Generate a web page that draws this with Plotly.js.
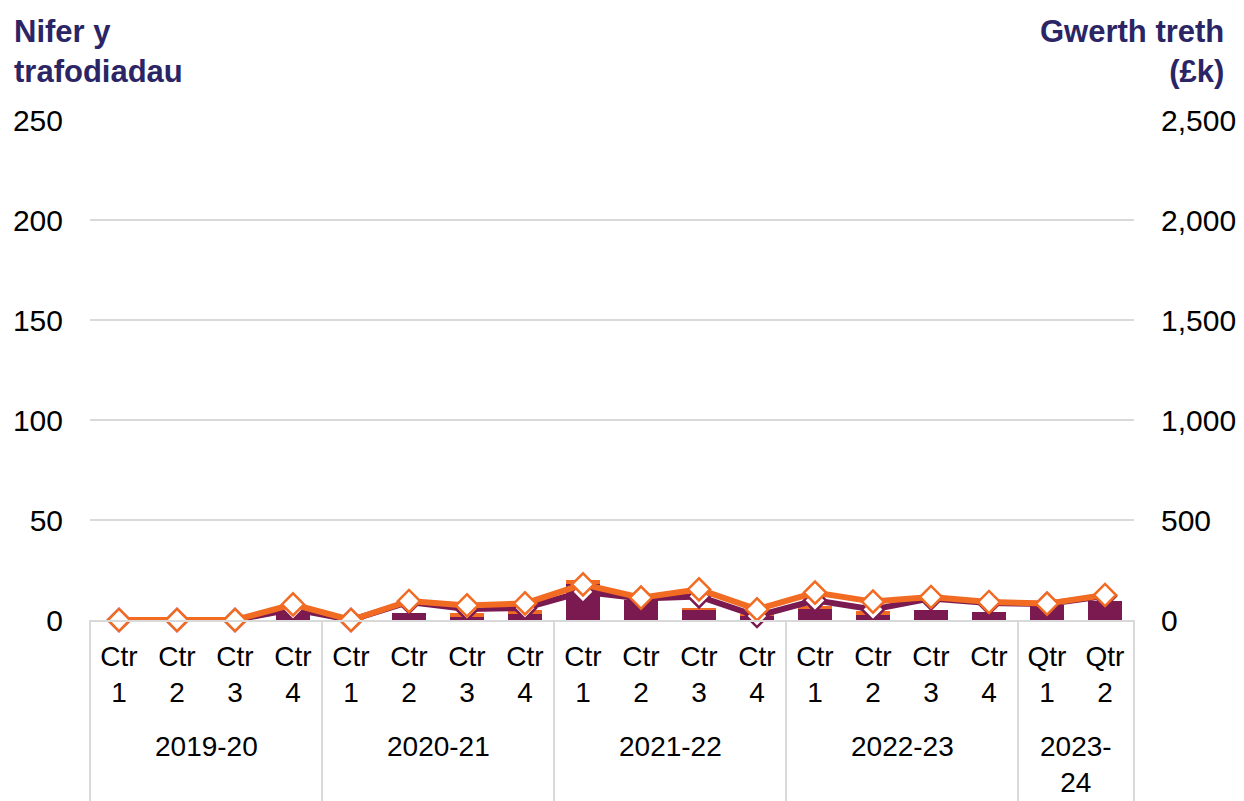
<!DOCTYPE html>
<html>
<head>
<meta charset="utf-8">
<script src="https://cdn.plot.ly/plotly-3.0.1.min.js"></script>
<style>html,body{margin:0;padding:0;background:#fff;}#chart{width:1244px;height:801px;}</style>
</head>
<body>
<div id="chart"></div>
<script>
// Data
const years = ["2019-20","2019-20","2019-20","2019-20",
               "2020-21","2020-21","2020-21","2020-21",
               "2021-22","2021-22","2021-22","2021-22",
               "2022-23","2022-23","2022-23","2022-23",
               "2023-<br>24","2023-<br>24"];
const quarters = ["Ctr<br>1","Ctr<br>2","Ctr<br>3","Ctr<br>4",
                  "Ctr<br>1","Ctr<br>2","Ctr<br>3","Ctr<br>4",
                  "Ctr<br>1","Ctr<br>2","Ctr<br>3","Ctr<br>4",
                  "Ctr<br>1","Ctr<br>2","Ctr<br>3","Ctr<br>4",
                  "Qtr<br>1","Qtr<br>2"];
// Number of transactions (left axis), stacked bars
const barsPurple = [0,0,0,3, 0,3.7,1.6,2.8, 17.8,9.8,5,2, 5.7,2.3,4.8,4, 7.3,9.5];
const barsOrange = [0,0,0,0.7, 0,0,2,2, 2,0,1.2,1.2, 1.3,2.2,0,0, 0,0];
// Tax value £k (right axis)
const linePurple = [0,0,0,55, 0,90,55,60, 141,108,118,20, 98,53,108,85, 80,120];
const lineOrange = [0,0,0,78, 0,95,73,83, 178,112,153,53, 137,92,115,90, 82,125];

const PURPLE = "#7b1a50";
const ORANGE = "#f26b23";
const NAVY = "#2b2565";
const GRID = "#d9d9d9";
const FONT = "Liberation Sans, Arial, sans-serif";
const n = quarters.length;
const idx = quarters.map((_, i) => i);
const xr = [-0.5, n - 0.5];
const toPaper = v => (v - xr[0]) / (xr[1] - xr[0]);

const traces = [
  {type:"bar", x:idx, y:barsPurple, marker:{color:PURPLE}, yaxis:"y", hoverinfo:"skip"},
  {type:"bar", x:idx, y:barsOrange, marker:{color:ORANGE}, yaxis:"y", hoverinfo:"skip"},
  {type:"scatter", mode:"lines+markers", x:idx, y:linePurple, yaxis:"y2", cliponaxis:false,
   line:{color:PURPLE, width:6},
   marker:{symbol:"diamond", size:17, color:"#ffffff", line:{color:PURPLE, width:2.5}}},
  {type:"scatter", mode:"lines+markers", x:idx, y:lineOrange, yaxis:"y2", cliponaxis:false,
   line:{color:ORANGE, width:6},
   marker:{symbol:"diamond", size:17, color:"#ffffff", line:{color:ORANGE, width:2.5}}}
];

// group boundaries and label positions from the years array
const shapes = [];
const annotations = [];
let start = 0;
for (let i = 1; i <= n; i++) {
  if (i === n || years[i] !== years[start]) {
    const mid = (start + i - 1) / 2;
    annotations.push({xref:"x", yref:"paper", x:mid, y:-0.218, xanchor:"center", yanchor:"top",
      text:years[start], showarrow:false, align:"center",
      font:{family:FONT, size:28, color:"#000"}});
    start = i;
  }
}
const bounds = [-0.5];
for (let i = 1; i < n; i++) if (years[i] !== years[i-1]) bounds.push(i - 0.5);
bounds.push(n - 0.5);
bounds.forEach(b => shapes.push({type:"line", xref:"paper", yref:"paper",
  x0:toPaper(b), x1:toPaper(b), y0:0, y1:-0.37, line:{color:GRID, width:2}}));

annotations.push(
  {xref:"paper", yref:"paper", x:-0.0747, y:1.216, xanchor:"left", yanchor:"top", align:"left",
   text:"<b>Nifer y<br>trafodiadau</b>", showarrow:false,
   font:{family:FONT, size:31, color:NAVY}},
  {xref:"paper", yref:"paper", x:1.0881, y:1.216, xanchor:"right", yanchor:"top", align:"right",
   text:"<b>Gwerth treth<br>(£k)</b>", showarrow:false,
   font:{family:FONT, size:31, color:NAVY}}
);

const layout = {
  width:1244, height:801,
  margin:{l:90, r:110, t:120, b:181},
  paper_bgcolor:"#ffffff", plot_bgcolor:"#ffffff",
  font:{family:FONT, size:30, color:"#000000"},
  showlegend:false,
  barmode:"stack",
  bargap:0.41,
  xaxis:{
    range:xr, tickmode:"array", tickvals:idx, ticktext:quarters,
    showline:true, linecolor:GRID, linewidth:2,
    ticks:"", tickfont:{family:FONT, size:28, color:"#000"},
    ticklabelstandoff:10,
    showgrid:false, zeroline:false
  },
  yaxis:{
    range:[0,250], dtick:50, tick0:0,
    showgrid:true, gridcolor:GRID, gridwidth:2,
    zeroline:false, showline:false, ticks:"",
    tickfont:{family:FONT, size:30, color:"#000"},
    ticklabelstandoff:26
  },
  yaxis2:{
    range:[0,2500], dtick:500, tick0:0, overlaying:"y", side:"right",
    showgrid:false, zeroline:false, showline:false, ticks:"",
    tickformat:",d",
    tickfont:{family:FONT, size:30, color:"#000"},
    ticklabelstandoff:26
  },
  shapes:shapes,
  annotations:annotations
};

Plotly.newPlot("chart", traces, layout, {displayModeBar:false, staticPlot:true});
</script>
</body>
</html>
